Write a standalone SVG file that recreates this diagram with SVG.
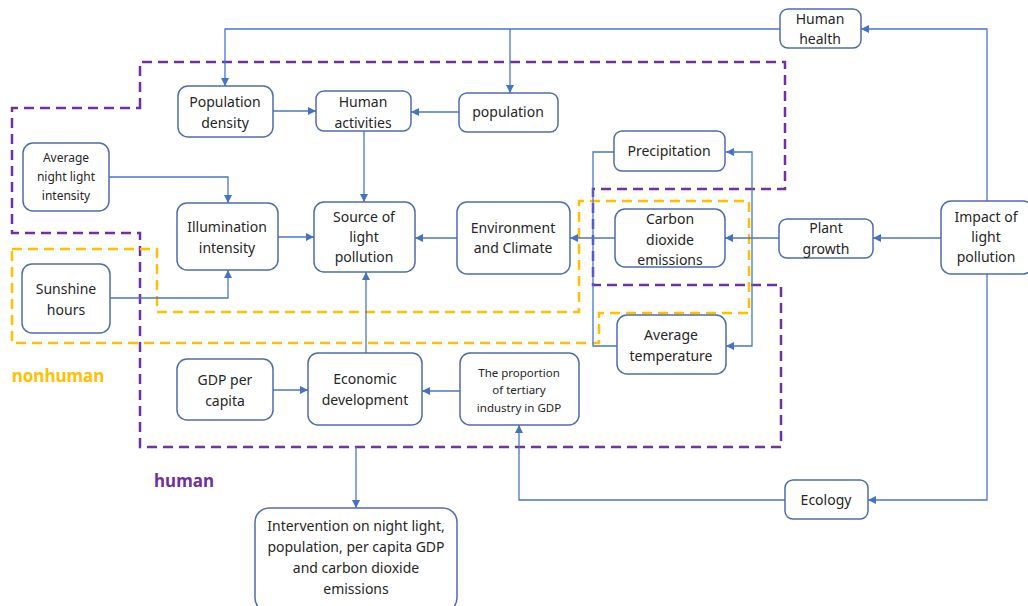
<svg xmlns="http://www.w3.org/2000/svg" width="1028" height="606" viewBox="0 0 1028 606">
<style>
.node rect{fill:#fff;stroke:#4F6EA8;stroke-width:1.5}
text{font-family:"Noto Sans","Open Sans",sans-serif;fill:#262626;text-anchor:middle}
.t{font-size:14px}
.s{font-size:12px}
.xs{font-size:11.5px}
.c{fill:none;stroke:#4A76C8;stroke-width:1.3}
.hum{fill:none;stroke:#7030A0;stroke-width:2.5;stroke-dasharray:10 6}
.non{fill:none;stroke:#FFC000;stroke-width:2.5;stroke-dasharray:10 6}
</style>
<defs>
<marker id="a" viewBox="0 0 10 10" refX="10" refY="5" markerWidth="8" markerHeight="8" markerUnits="userSpaceOnUse" orient="auto">
<path d="M0,0L10,5L0,10z" fill="#4472C4"/>
</marker>
</defs>
<rect width="1028" height="606" fill="#fff"/>
<g id="regions">
<path class="hum" d="M140,108V62H785V189H593V285H781V447H140V233H12V108Z"/>
<path class="non" d="M12,249H157V312H579V201H749V313H599V343H12Z"/>
<text x="58" y="382" style="font-size:17px;font-weight:bold;fill:#FFC000">nonhuman</text>
<text x="184" y="487" style="font-size:17px;font-weight:bold;fill:#7030A0">human</text>
</g>
<g id="connectors">
<path class="c" d="M780,29H225V86" marker-end="url(#a)"/>
<path class="c" d="M510,29V93" marker-end="url(#a)"/>
<path class="c" d="M987,201V29H861" marker-end="url(#a)"/>
<path class="c" d="M273,111H316" marker-end="url(#a)"/>
<path class="c" d="M459,112H411" marker-end="url(#a)"/>
<path class="c" d="M364,131V202" marker-end="url(#a)"/>
<path class="c" d="M109,177H228V203" marker-end="url(#a)"/>
<path class="c" d="M110,298H228V270" marker-end="url(#a)"/>
<path class="c" d="M278,237H314" marker-end="url(#a)"/>
<path class="c" d="M457,238H415" marker-end="url(#a)"/>
<path class="c" d="M615,238H570" marker-end="url(#a)"/>
<path class="c" d="M779,238H725" marker-end="url(#a)"/>
<path class="c" d="M941,238H873" marker-end="url(#a)"/>
<path class="c" d="M614,152H593V346H617"/>
<path class="c" d="M752,238V152H726" marker-end="url(#a)"/>
<path class="c" d="M752,238V346H726" marker-end="url(#a)"/>
<path class="c" d="M366,353V272" marker-end="url(#a)"/>
<path class="c" d="M273,390H308" marker-end="url(#a)"/>
<path class="c" d="M460,391H422" marker-end="url(#a)"/>
<path class="c" d="M356,447V508" marker-end="url(#a)"/>
<path class="c" d="M987,274V500H868" marker-end="url(#a)"/>
<path class="c" d="M785,500H519V425" marker-end="url(#a)"/>
</g>
<g id="human-health" class="node"><rect x="780" y="9" width="81" height="39" rx="8"/><text class="t" x="820" y="24">Human</text><text class="t" x="820" y="44">health</text></g>
<g id="population-density" class="node"><rect x="178" y="86" width="95" height="51" rx="10"/><text class="t" x="225" y="107">Population</text><text class="t" x="225" y="128">density</text></g>
<g id="human-activities" class="node"><rect x="316" y="91" width="95" height="40" rx="8"/><text class="t" x="363" y="107">Human</text><text class="t" x="363" y="128">activities</text></g>
<g id="population" class="node"><rect x="459" y="93" width="99" height="39" rx="8"/><text class="t" x="508" y="117">population</text></g>
<g id="precipitation" class="node"><rect x="614" y="131" width="111" height="40" rx="8"/><text class="t" x="669" y="156">Precipitation</text></g>
<g id="avg-night-light" class="node"><rect x="23" y="143" width="86" height="68" rx="10"/><text class="s" x="66" y="162">Average</text><text class="s" x="66" y="181">night light</text><text class="s" x="66" y="200">intensity</text></g>
<g id="illumination" class="node"><rect x="177" y="203" width="101" height="67" rx="10"/><text class="t" x="227" y="232">Illumination</text><text class="t" x="227" y="253">intensity</text></g>
<g id="source" class="node"><rect x="314" y="202" width="101" height="70" rx="10"/><text class="t" x="364" y="222">Source of</text><text class="t" x="364" y="242">light</text><text class="t" x="364" y="262">pollution</text></g>
<g id="environment" class="node"><rect x="457" y="202" width="113" height="72" rx="10"/><text class="t" x="513" y="233">Environment</text><text class="t" x="513" y="253">and Climate</text></g>
<g id="carbon" class="node"><rect x="615" y="209" width="110" height="58" rx="10"/><text class="t" x="670" y="224">Carbon</text><text class="t" x="670" y="245">dioxide</text><text class="t" x="670" y="265">emissions</text></g>
<g id="plant-growth" class="node"><rect x="779" y="219" width="94" height="39" rx="8"/><text class="t" x="826" y="233">Plant</text><text class="t" x="826" y="254">growth</text></g>
<g id="impact" class="node"><rect x="941" y="201" width="92" height="73" rx="10"/><text class="t" x="986" y="222">Impact of</text><text class="t" x="986" y="242">light</text><text class="t" x="986" y="262">pollution</text></g>
<g id="sunshine" class="node"><rect x="22" y="264" width="88" height="69" rx="10"/><text class="t" x="66" y="294">Sunshine</text><text class="t" x="66" y="315">hours</text></g>
<g id="avg-temperature" class="node"><rect x="617" y="315" width="109" height="59" rx="10"/><text class="t" x="671" y="340">Average</text><text class="t" x="671" y="361">temperature</text></g>
<g id="gdp-per-capita" class="node"><rect x="177" y="359" width="96" height="61" rx="10"/><text class="t" x="225" y="385">GDP per</text><text class="t" x="225" y="406">capita</text></g>
<g id="economic" class="node"><rect x="308" y="353" width="114" height="72" rx="10"/><text class="t" x="365" y="384">Economic</text><text class="t" x="365" y="405">development</text></g>
<g id="tertiary" class="node"><rect x="460" y="353" width="119" height="72" rx="10"/><text class="xs" x="519" y="377">The proportion</text><text class="xs" x="519" y="394">of tertiary</text><text class="xs" x="519" y="412">industry in GDP</text></g>
<g id="ecology" class="node"><rect x="785" y="480" width="83" height="39" rx="8"/><text class="t" x="826" y="505">Ecology</text></g>
<g id="intervention" class="node"><rect x="255" y="508" width="202" height="104" rx="14"/><text class="t" x="356" y="531">Intervention on night light,</text><text class="t" x="356" y="552">population, per capita GDP</text><text class="t" x="356" y="573">and carbon dioxide</text><text class="t" x="356" y="594">emissions</text></g>
</svg>
